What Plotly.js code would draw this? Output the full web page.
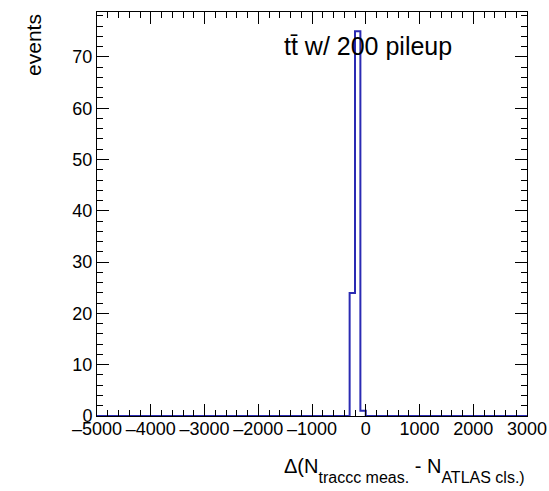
<!DOCTYPE html>
<html>
<head>
<meta charset="utf-8">
<script src="https://cdn.plot.ly/plotly-3.0.1.min.js"></script>
<style>html,body{margin:0;padding:0;background:#fff;}#plot{width:549px;height:491px;}</style>
</head>
<body>
<div id="plot"></div>
<script>
// Histogram data (bins of width 100 over -5000..3000; only non-empty bins listed)
const binLowEdges = [-300, -200, -100];
const binCounts = [24, 75, 1];
const binWidth = 100;
const xMin = -5000, xMax = 3000;
const xTickVals = [-5000, -4000, -3000, -2000, -1000, 0, 1000, 2000, 3000];
const yTickVals = [0, 10, 20, 30, 40, 50, 60, 70];

// Build step outline from the bins
const sx = [xMin], sy = [0];
binLowEdges.forEach((lo, i) => { sx.push(lo); sy.push(binCounts[i]); });
sx.push(binLowEdges[binLowEdges.length - 1] + binWidth); sy.push(0);
sx.push(xMax); sy.push(0);

const font = "'Liberation Sans', Arial, Helvetica, sans-serif";
const yMax = Math.max(...binCounts) * 1.05;

const trace = {
  x: sx, y: sy, type: 'scatter', mode: 'lines',
  line: {shape: 'hv', color: '#2b2bb3', width: 2},
  cliponaxis: false, hoverinfo: 'skip'
};

const axisCommon = {
  showgrid: false, zeroline: false, showline: true, linecolor: '#000', linewidth: 1,
  mirror: 'allticks', ticks: 'inside', ticklen: 12, tickwidth: 1, tickcolor: '#000',
  tickfont: {family: font, size: 18, color: '#000'}
};

const subStyle = 'font-size:16px;baseline-shift:-6px';

const layout = {
  width: 549, height: 491,
  margin: {l: 97, r: 22, t: 12, b: 75},
  paper_bgcolor: '#fff', plot_bgcolor: '#fff',
  showlegend: false,
  xaxis: Object.assign({}, axisCommon, {
    range: [xMin, xMax], tickvals: xTickVals, ticktext: xTickVals.map(v => v < 0 ? '\u2013' + Math.abs(v) : String(v)),
    minor: {dtick: 200, tick0: 0, ticks: 'inside', ticklen: 6, tickcolor: '#000'},
    ticklabelstandoff: -4
  }),
  yaxis: Object.assign({}, axisCommon, {
    range: [0, yMax], tickvals: yTickVals,
    minor: {dtick: 2, tick0: 0, ticks: 'inside', ticklen: 6, tickcolor: '#000'},
    ticklabelstandoff: 0
  }),
  annotations: [
    {xref: 'paper', yref: 'paper', x: 1.0, y: -0.092, xanchor: 'right', yanchor: 'top',
     text: '\u0394(N<sub><span style="' + subStyle + '">traccc meas.</span></sub> - N<sub><span style="' + subStyle + '">ATLAS cls.)</span></sub>', showarrow: false,
     font: {family: font, size: 20, color: '#000'}},
    {xref: 'paper', yref: 'paper', x: -0.149, y: 1.0, xanchor: 'center', yanchor: 'top',
     text: 'events', textangle: -90, showarrow: false,
     font: {family: font, size: 21, color: '#000'}},
    {xref: 'x', yref: 'paper', x: -1550, y: 0.916, xanchor: 'left', yanchor: 'middle',
     text: 'tt\u0304 w/ 200 pileup', showarrow: false,
     font: {family: font, size: 25, color: '#000'}}
  ]
};

Plotly.newPlot('plot', [trace], layout, {staticPlot: true, displayModeBar: false});
</script>
</body>
</html>
